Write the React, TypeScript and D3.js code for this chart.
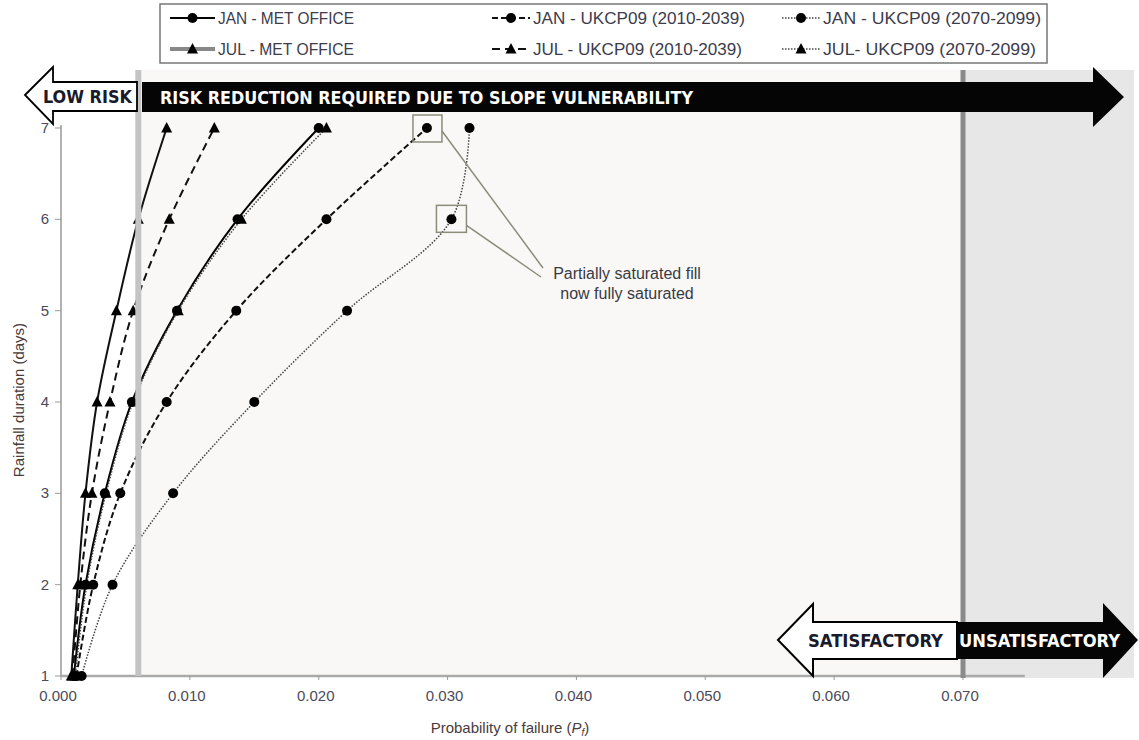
import React from "react";
import * as d3 from "d3";

const days = [1, 2, 3, 4, 5, 6, 7];
const janMet = [0.001, 0.0019, 0.0034, 0.0055, 0.009, 0.0137, 0.02];
const janUk2010 = [0.0012, 0.0025, 0.0046, 0.0082, 0.0136, 0.0206, 0.0284];
const janUk2070 = [0.0016, 0.004, 0.0087, 0.015, 0.0222, 0.0303, 0.0317];
const julMet = [0.0008, 0.0013, 0.0019, 0.0028, 0.0043, 0.006, 0.0082];
const julUk2010 = [0.0009, 0.0015, 0.0024, 0.0038, 0.0056, 0.0084, 0.0119];
const julUk2070 = [0.0011, 0.002, 0.0035, 0.0056, 0.0091, 0.014, 0.0206];

const xTicks = [0, 0.01, 0.02, 0.03, 0.04, 0.05, 0.06, 0.07];
const yTicks = [1, 2, 3, 4, 5, 6, 7];
const lowRiskLimit = 0.006;
const unsatisfactoryLimit = 0.07;

const seriesNames = [
  "JAN - MET OFFICE",
  "JAN - UKCP09 (2010-2039)",
  "JAN - UKCP09 (2070-2099)",
  "JUL - MET OFFICE",
  "JUL - UKCP09 (2010-2039)",
  "JUL- UKCP09 (2070-2099)",
];

type Style = { dash: string; width: number; color: string; marker: "circle" | "triangle"; legendColor: string; legendWidth: number };
const styles: Style[] = [
  { dash: "", width: 2, color: "#000", marker: "circle", legendColor: "#000", legendWidth: 2 },
  { dash: "6,3", width: 2, color: "#111", marker: "circle", legendColor: "#111", legendWidth: 2 },
  { dash: "1.5,1.5", width: 1.5, color: "#444", marker: "circle", legendColor: "#444", legendWidth: 1.5 },
  { dash: "", width: 2, color: "#111", marker: "triangle", legendColor: "#888", legendWidth: 4 },
  { dash: "8,5", width: 2, color: "#111", marker: "triangle", legendColor: "#111", legendWidth: 2 },
  { dash: "1.5,1.5", width: 1.5, color: "#444", marker: "triangle", legendColor: "#444", legendWidth: 1.5 },
];
const seriesValues = [janMet, janUk2010, janUk2070, julMet, julUk2010, julUk2070];

const W = 1139;
const H = 740;
const FONT = "'Liberation Sans Narrow', 'Arial Narrow', 'Liberation Sans', Arial, sans-serif";
const BOLD = "'DejaVu Sans Condensed', 'Liberation Sans Narrow', 'Liberation Sans', sans-serif";

function Marker({ type, x, y }: { type: string; x: number; y: number }) {
  if (type === "circle") return <circle cx={x} cy={y} r={5} fill="#000" />;
  return <path d={`M${x},${y - 6}L${x + 5.5},${y + 4.5}L${x - 5.5},${y + 4.5}Z`} fill="#000" />;
}

export default function App() {
  const x = d3.scaleLinear().domain([0, 0.07]).range([61, 963]);
  const y = d3.scaleLinear().domain([1, 7]).range([676, 128]);
  const xEnd = x(0.0748);
  const top = 70;
  const bottom = 676;

  const line = d3
    .line<[number, number]>()
    .x((d) => x(d[0]))
    .y((d) => y(d[1]))
    .curve(d3.curveCatmullRom.alpha(0.5));

  const legendCols = [170, 492, 782];
  const legendRows = [18, 49];
  const legendTextLen = [136, 212, 218, 136, 209, 213];

  return (
    <svg width={W} height={H} style={{ position: "absolute", left: 0, top: 0, background: "#fff" }} fontFamily={FONT}>
      {/* background zones */}
      <rect x={x(lowRiskLimit)} y={top} width={x(unsatisfactoryLimit) - x(lowRiskLimit)} height={bottom - top} fill="#f9f8f6" />
      <rect x={x(unsatisfactoryLimit)} y={top} width={1134 - x(unsatisfactoryLimit)} height={bottom + 2 - top} fill="#e7e7e7" />

      {/* axes */}
      <line x1={61} x2={61} y1={125} y2={bottom} stroke="#999" strokeWidth={1.5} />
      <line x1={61} x2={xEnd} y1={bottom} y2={bottom} stroke="#aaa" strokeWidth={2.5} />
      {yTicks.map((t) => (
        <g key={"y" + t}>
          <line x1={55} x2={61} y1={y(t)} y2={y(t)} stroke="#999" />
          <text x={45} y={y(t) + 5} textAnchor="middle" fontSize={15} fill="#4a4a5a">{t}</text>
        </g>
      ))}
      {xTicks.map((t) => (
        <g key={"x" + t}>
          <line x1={x(t)} x2={x(t)} y1={bottom} y2={bottom + 4} stroke="#999" />
          <text x={x(t) - 3} y={bottom + 25} textAnchor="middle" fontSize={15} fill="#4a4a5a">{t.toFixed(3)}</text>
        </g>
      ))}
      <text x={510} y={733} textAnchor="middle" fontSize={15} fill="#4a3a3a">
        Probability of failure (<tspan fontStyle="italic">P</tspan><tspan fontSize={10} dy={3} fontStyle="italic">f</tspan><tspan dy={-3}>)</tspan>
      </text>
      <text transform={`translate(24,400) rotate(-90)`} textAnchor="middle" fontSize={15} fill="#4a3a3a">Rainfall duration (days)</text>

      {/* series lines */}
      {seriesValues.map((vals, i) => {
        const pts = vals.map((v, j) => [v, days[j]] as [number, number]);
        const st = styles[i];
        return <path key={"l" + i} d={line(pts) || ""} fill="none" stroke={st.color} strokeWidth={st.width} strokeDasharray={st.dash} />;
      })}
      {seriesValues.map((vals, i) =>
        vals.map((v, j) => <Marker key={`m${i}-${j}`} type={styles[i].marker} x={x(v)} y={y(days[j])} />)
      )}

      {/* limit lines */}
      <line x1={x(lowRiskLimit)} x2={x(lowRiskLimit)} y1={top} y2={bottom} stroke="#c4c4c4" strokeWidth={6} />
      <line x1={x(unsatisfactoryLimit)} x2={x(unsatisfactoryLimit)} y1={top} y2={bottom + 2} stroke="#8a8a8a" strokeWidth={5} />

      {/* annotations */}
      <rect x={x(janUk2010[6]) - 14} y={y(7) - 13} width={29} height={27} fill="none" stroke="#8c8c7c" strokeWidth={1.5} />
      <rect x={x(janUk2070[5]) - 15} y={y(6) - 14} width={30} height={27} fill="none" stroke="#8c8c7c" strokeWidth={1.5} />
      <line x1={x(janUk2010[6]) + 15} y1={y(7) + 3} x2={543} y2={268} stroke="#8c8c7c" strokeWidth={1.5} />
      <line x1={x(janUk2070[5]) + 15} y1={y(6) + 6} x2={541} y2={277} stroke="#8c8c7c" strokeWidth={1.5} />
      <text x={627} y={279} textAnchor="middle" fontSize={16} fill="#3a3a44">Partially saturated fill</text>
      <text x={627} y={299} textAnchor="middle" fontSize={16} fill="#3a3a44">now fully saturated</text>

      {/* top arrows */}
      <path d="M25,95L53,67L53,82L137,82L137,111L53,111L53,124Z" fill="#fff" stroke="#000" strokeWidth={1.8} />
      <text x={43} y={103} fontSize={17} fontWeight="bold" fill="#1a1a2a" fontFamily={BOLD} textLength={89} lengthAdjust="spacingAndGlyphs">LOW RISK</text>
      <path d="M142,82L1093,82L1093,67L1124,97L1093,127L1093,112L142,112Z" fill="#050505" />
      <text x={160} y={104} fontSize={17} fontWeight="bold" fill="#fff" fontFamily={BOLD} textLength={533} lengthAdjust="spacingAndGlyphs">RISK REDUCTION REQUIRED DUE TO SLOPE VULNERABILITY</text>

      {/* bottom arrows */}
      <path d="M778,640L813,604L813,622L957,622L957,659L813,659L813,676Z" fill="#fff" stroke="#000" strokeWidth={2} />
      <path d="M957,622L1103,622L1103,603L1138,640L1103,678L1103,659L957,659Z" fill="#050505" />
      <text x={808} y={647} fontSize={17} fontWeight="bold" fill="#1a1a2a" fontFamily={BOLD} textLength={135} lengthAdjust="spacingAndGlyphs">SATISFACTORY</text>
      <text x={959} y={647} fontSize={17} fontWeight="bold" fill="#fff" fontFamily={BOLD} textLength={161} lengthAdjust="spacingAndGlyphs">UNSATISFACTORY</text>

      {/* legend */}
      <rect x={160} y={4} width={887} height={59} fill="#fff" stroke="#777" strokeWidth={1.5} />
      {seriesNames.map((name, i) => {
        const col = i % 3;
        const row = Math.floor(i / 3);
        const lx = legendCols[col];
        const ly = legendRows[row];
        const st = styles[i];
        const symW = col === 0 ? 45 : 38;
        return (
          <g key={"lg" + i}>
            <line x1={lx} x2={lx + symW} y1={ly} y2={ly} stroke={st.legendColor} strokeWidth={st.legendWidth} strokeDasharray={st.dash} />
            <Marker type={st.marker} x={lx + symW / 2} y={ly} />
            <text x={lx + symW + 3} y={ly + 6} fontSize={17} fill="#3c3c4c" textLength={legendTextLen[i]} lengthAdjust="spacingAndGlyphs">{name}</text>
          </g>
        );
      })}
    </svg>
  );
}
